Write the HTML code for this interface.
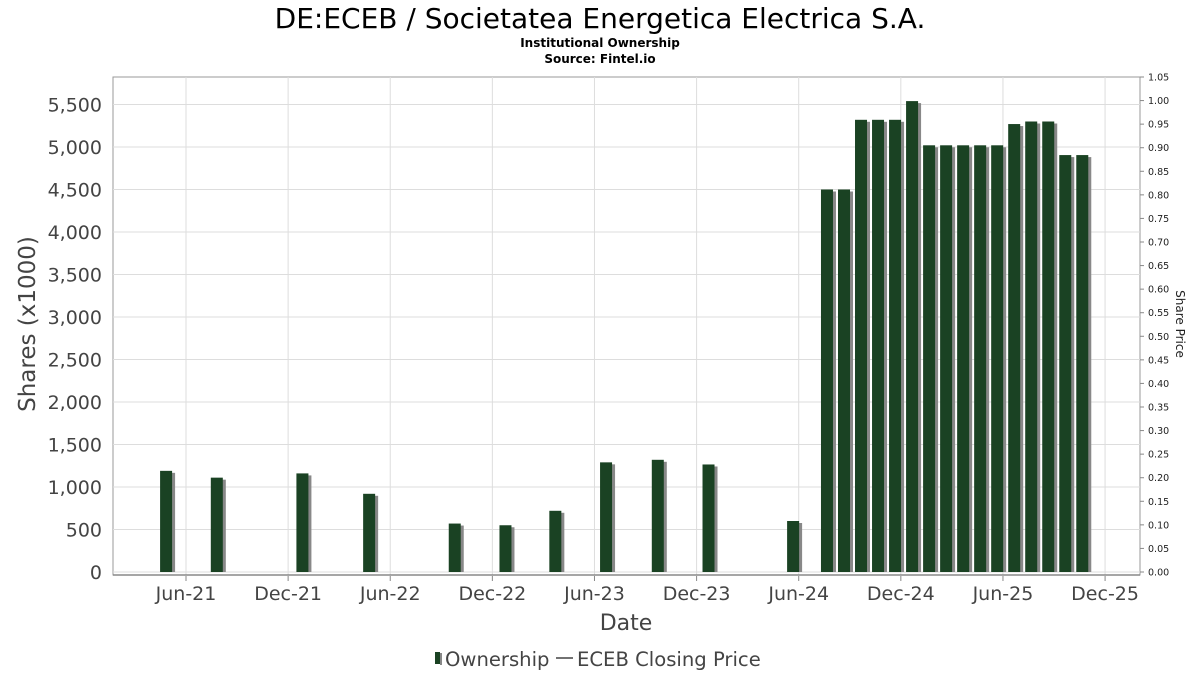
<!DOCTYPE html>
<html><head><meta charset="utf-8"><style>
body{margin:0;background:#fff;font-family:"DejaVu Sans","Liberation Sans",sans-serif;}
svg{display:block}
</style></head><body>
<svg id="chart" width="1200" height="675" xmlns="http://www.w3.org/2000/svg">
<text x="600" y="28" text-anchor="middle" font-size="28" fill="#000">DE:ECEB / Societatea Energetica Electrica S.A.</text>
<text x="600" y="47" text-anchor="middle" font-size="12" font-weight="bold" fill="#000">Institutional Ownership</text>
<text x="600" y="63" text-anchor="middle" font-size="12" font-weight="bold" fill="#000">Source: Fintel.io</text>
<rect x="113" y="77" width="1027" height="498" fill="#fff" stroke="#999"/>
<g id="grid"></g>
<g id="bars"></g>
<g id="axes"></g>
<text x="0" y="0" transform="translate(35,324) rotate(-90)" text-anchor="middle" font-size="23" fill="#444">Shares (x1000)</text>
<text x="0" y="0" transform="translate(1176,324) rotate(90)" text-anchor="middle" font-size="12" fill="#222">Share Price</text>
<text x="626" y="630" text-anchor="middle" font-size="22" fill="#444">Date</text>
<g>
<rect x="435" y="652" width="5" height="12" fill="#1a4223"/>
<rect x="440" y="653" width="2" height="12" fill="#888"/>
<text x="445" y="666" font-size="19.6" fill="#444">Ownership</text>
<line x1="556" y1="658" x2="573" y2="658" stroke="#444" stroke-width="1.5"/>
<text x="577" y="666" font-size="19.6" fill="#444">ECEB Closing Price</text>
</g>
</svg>
<script>
const barMonths=[3.83,6.81,11.84,15.76,20.79,23.77,26.7,29.68,32.72,35.7,40.67,42.66,43.66,44.66,45.66,46.66,47.66,48.66,49.66,50.66,51.66,52.66,53.66,54.66,55.66,56.66,57.66];
const shares=[1190,1110,1160,920,570,550,720,1290,1320,1265,600,4500,4500,5320,5320,5320,5540,5020,5020,5020,5020,5020,5270,5300,5300,4905,4905];
const yTicks=[0,500,1000,1500,2000,2500,3000,3500,4000,4500,5000,5500];
const priceTicks=[0,0.05,0.1,0.15,0.2,0.25,0.3,0.35,0.4,0.45,0.5,0.55,0.6,0.65,0.7,0.75,0.8,0.85,0.9,0.95,1.0,1.05];
const xTickMonths=[5,11,17,23,29,35,41,47,53,59];
const xTickLabels=["Jun-21","Dec-21","Jun-22","Dec-22","Jun-23","Dec-23","Jun-24","Dec-24","Jun-25","Dec-25"];
const NS="http://www.w3.org/2000/svg";
const xs=m=>186+(m-5)*17.02;
const ys=v=>572-v*0.085;
const yp=p=>572-p*(495/1.05);
function mk(t,a,p){const e=document.createElementNS(NS,t);for(const k in a)e.setAttribute(k,a[k]);p.appendChild(e);return e;}
const grid=document.getElementById('grid'),bars=document.getElementById('bars'),axes=document.getElementById('axes');
yTicks.forEach(v=>{
 const l=mk('line',{x1:113,x2:1140,y1:ys(v),y2:ys(v),stroke:'#ddd'},grid);
 
 
 const t=mk('text',{x:102,y:ys(v)+7,'text-anchor':'end','font-size':19,fill:'#444'},axes);
 t.textContent=v.toLocaleString('en-US');
 
 
});
xTickMonths.forEach((m,i)=>{
 const l=mk('line',{x1:xs(m),x2:xs(m),y1:77,y2:575,stroke:'#ddd'},grid);
 
 
 const tk=mk('line',{x1:xs(m),x2:xs(m),y1:576,y2:581,stroke:'#888'},axes);
 
 
 const t=mk('text',{x:xs(m),y:600,'text-anchor':'middle','font-size':19,fill:'#444'},axes);
 t.textContent=xTickLabels[i];
 
 
});
priceTicks.forEach(p=>{
 const tk=mk('line',{x1:1140,x2:1144,y1:yp(p),y2:yp(p),stroke:'#888'},axes);
 
 
 const t=mk('text',{x:1148,y:yp(p)+3.5,'font-size':9.5,fill:'#222'},axes);
 t.textContent=p.toFixed(2);
 
 
});
const ax=mk('line',{x1:113,x2:1140,y1:575,y2:575,stroke:'#888','stroke-width':1.5},axes);


barMonths.forEach((m,i)=>{
 const cx=xs(m),top=ys(shares[i]);
 const s=mk('rect',{x:cx-6+3,y:top+2,width:12,height:572-top-2,fill:'#888'},bars);
 
 
 const b=mk('rect',{x:cx-6,y:top,width:12,height:572-top,fill:'#1a4223'},bars);
 
 
});
</script>
</body></html>
